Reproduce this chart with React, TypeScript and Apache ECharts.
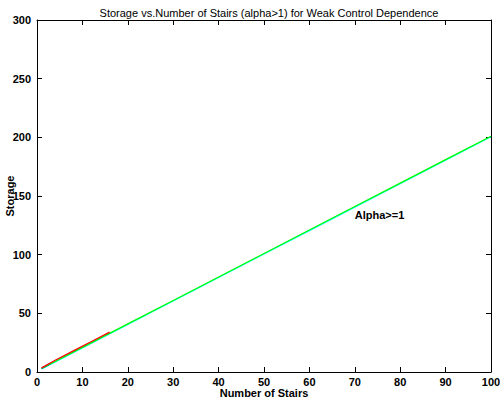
import React, { useEffect, useRef } from "react";
import * as echarts from "echarts";

const titleText = "Storage vs.Number of Stairs (alpha>1) for Weak Control Dependence";
const xName = "Number of Stairs";
const yName = "Storage";
const annotation = "Alpha>=1";

const greenX = [1, 10, 20, 30, 40, 50, 60, 70, 80, 90, 100];
const greenY = [3, 21, 41, 61, 81, 101, 121, 141, 161, 181, 201];
const cyanX = [1, 10, 20, 30, 40, 50, 60, 70, 80, 90, 100];
const cyanY = [2.5, 20.5, 40.5, 60.5, 80.5, 100.5, 120.5, 140.5, 160.5, 180.5, 200.5];
const redX = [1, 4, 8, 12, 16];
const redY = [3.5, 10, 18, 26, 34];
const blueX = [1, 2, 3];
const blueY = [3, 5, 7];

const font = "Liberation Sans";

export default function App() {
  const ref = useRef<HTMLDivElement>(null);
  useEffect(() => {
    if (!ref.current) return;
    const chart = echarts.init(ref.current, null, { renderer: "svg" });
    const pair = (xs: number[], ys: number[]) => xs.map((x, i) => [x, ys[i]]);
    const axisCommon = {
      min: 0,
      axisLine: { show: true, onZero: false, lineStyle: { color: "#000", width: 1 } },
      axisTick: { show: true, inside: true, length: 5, lineStyle: { color: "#000" } },
      splitLine: { show: false },
    };
    chart.setOption({
      animation: false,
      backgroundColor: "#fff",
      title: {
        text: titleText,
        left: 264,
        textAlign: "center",
        top: 2,
        textStyle: { fontFamily: font, fontSize: 11, fontWeight: "normal", color: "#000" },
      },
      grid: { left: 37, right: 9, top: 20, bottom: 28, containLabel: false, outerBoundsMode: "none" },
      xAxis: [
        {
          ...axisCommon,
          type: "value",
          max: 100,
          interval: 10,
          position: "bottom",
          name: xName,
          nameLocation: "middle",
          nameGap: 15,
          nameMoveOverlap: false,
          nameTextStyle: { fontFamily: font, fontSize: 11, fontWeight: "bold", color: "#000" },
          axisLabel: { fontFamily: font, fontSize: 11, fontWeight: "bold", color: "#000", margin: 4 },
        },
        {
          ...axisCommon,
          type: "value",
          max: 100,
          interval: 10,
          position: "top",
          axisLabel: { show: false },
        },
      ],
      yAxis: [
        {
          ...axisCommon,
          type: "value",
          max: 300,
          interval: 50,
          position: "left",
          name: yName,
          nameLocation: "middle",
          nameGap: 22,
          nameMoveOverlap: false,
          nameTextStyle: { fontFamily: font, fontSize: 11, fontWeight: "bold", color: "#000" },
          axisLabel: { fontFamily: font, fontSize: 11, fontWeight: "bold", color: "#000", margin: 6 },
        },
        {
          ...axisCommon,
          type: "value",
          max: 300,
          interval: 50,
          position: "right",
          axisLabel: { show: false },
        },
      ],
      series: [
        {
          type: "line",
          data: pair(cyanX, cyanY),
          showSymbol: false,
          lineStyle: { color: "#00ffff", width: 1.2 },
        },
        {
          type: "line",
          data: pair(blueX, blueY),
          showSymbol: false,
          lineStyle: { color: "#0000ff", width: 1.2 },
        },
        {
          type: "line",
          data: pair(greenX, greenY),
          showSymbol: false,
          lineStyle: { color: "#00ff00", width: 1.2 },
          markPoint: {
            symbol: "circle",
            symbolSize: 0,
            data: [
              {
                coord: [70, 134],
                label: {
                  show: true,
                  formatter: annotation,
                  position: "right",
                  distance: 0,
                  fontFamily: font,
                  fontSize: 11,
                  fontWeight: "bold",
                  color: "#000",
                },
              },
            ],
          },
        },
        {
          type: "line",
          data: pair(redX, redY),
          showSymbol: false,
          lineStyle: { color: "#ff0000", width: 1.2 },
        },
      ],
    });
    return () => chart.dispose();
  }, []);
  return (
    <div
      ref={ref}
      style={{ position: "fixed", left: 0, top: 0, width: 500, height: 400 }}
    />
  );
}
